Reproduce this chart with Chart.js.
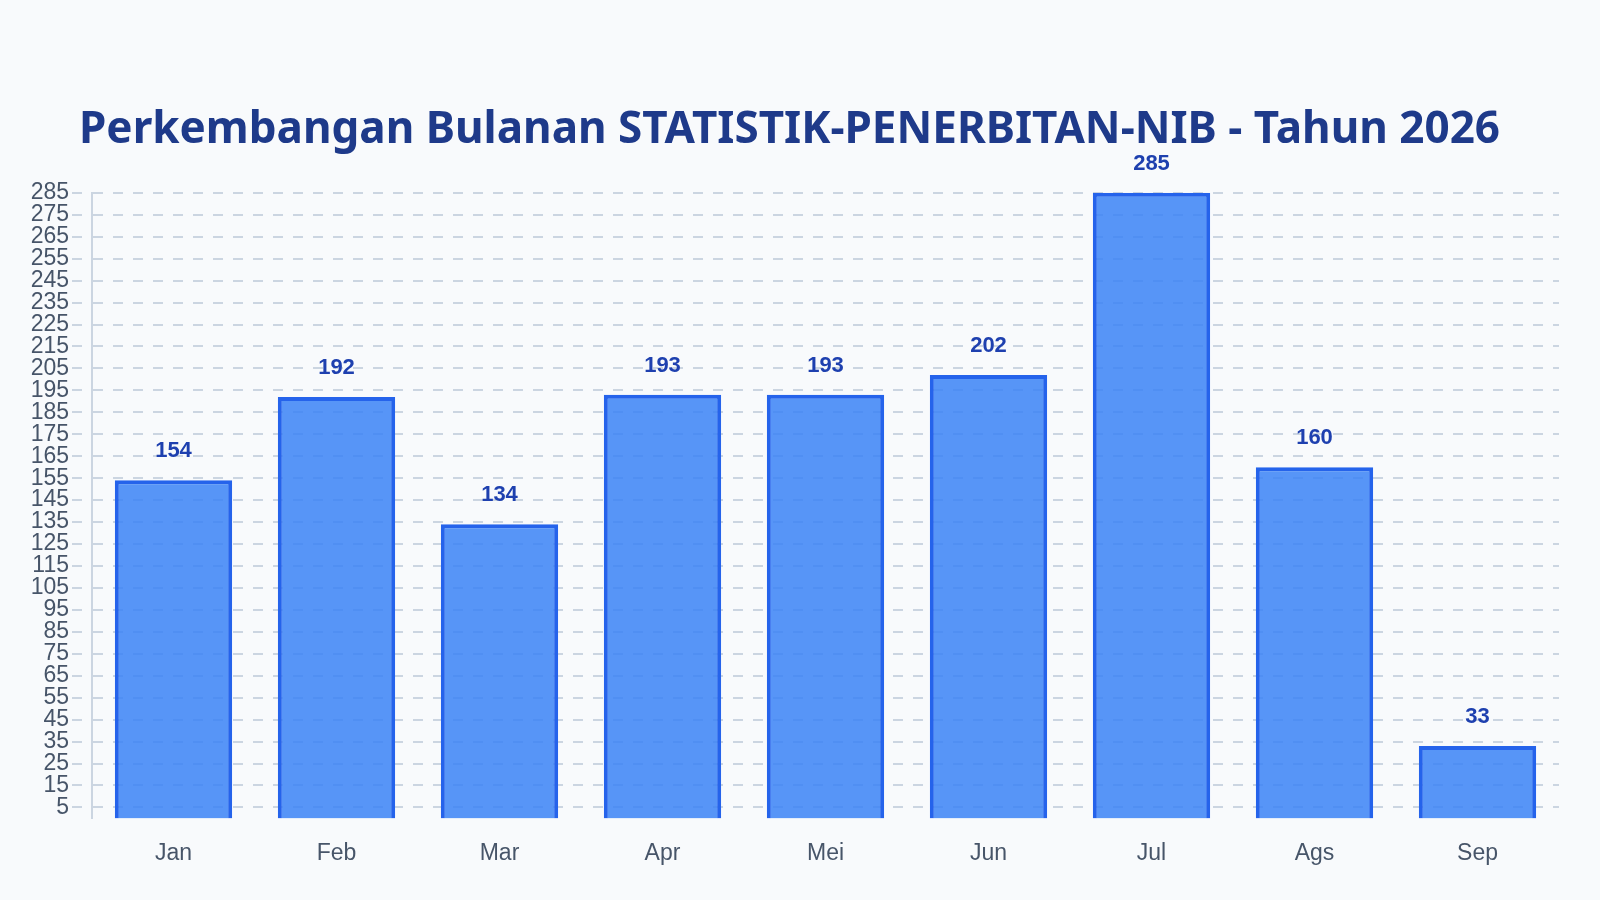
<!DOCTYPE html>
<html lang="id">
<head>
<meta charset="utf-8">
<title>Perkembangan Bulanan STATISTIK-PENERBITAN-NIB</title>
<script src="https://cdn.jsdelivr.net/npm/chart.js@4.4.1/dist/chart.umd.min.js"></script>
<style>
  html, body {
    margin: 0;
    padding: 0;
    background: #f8fafc;
  }
  .chart-wrap {
    width: 1600px;
    height: 900px;
    position: relative;
  }
</style>
</head>
<body>
<div class="chart-wrap">
  <canvas id="nibChart"></canvas>
</div>
<script>
const monthLabels = ['Jan', 'Feb', 'Mar', 'Apr', 'Mei', 'Jun', 'Jul', 'Ags', 'Sep'];
const nibCounts = [154, 192, 134, 193, 193, 202, 285, 160, 33];
const yTickValues = [
  5, 15, 25, 35, 45, 55, 65, 75, 85, 95, 105, 115, 125, 135, 145,
  155, 165, 175, 185, 195, 205, 215, 225, 235, 245, 255, 265, 275, 285
];
const chartTitle = 'Perkembangan Bulanan STATISTIK-PENERBITAN-NIB - Tahun 2026';

// draws the value above each bar
const valueLabels = {
  id: 'valueLabels',
  afterDatasetsDraw(chart) {
    const { ctx } = chart;
    const meta = chart.getDatasetMeta(0);
    ctx.save();
    ctx.font = 'bold 22px "Liberation Sans", Arial, sans-serif';
    ctx.fillStyle = '#1e40af';
    ctx.textAlign = 'center';
    ctx.textBaseline = 'middle';
    meta.data.forEach((bar, i) => {
      ctx.fillText(String(nibCounts[i]), bar.x, bar.y - 29);
    });
    ctx.restore();
  },
};

const chartCanvas = document.getElementById('nibChart');

new Chart(chartCanvas, {
  type: 'bar',
  data: {
    labels: monthLabels,
    datasets: [
      {
        label: 'NIB',
        data: nibCounts,
        backgroundColor: 'rgba(59, 130, 246, 0.85)',
        borderColor: '#2563eb',
        borderWidth: 4,
      },
    ],
  },
  options: {
    responsive: true,
    maintainAspectRatio: false,
    animation: false,
    layout: {
      padding: { top: 40, right: 41, bottom: 12, left: 20 },
    },
    plugins: {
      legend: { display: false },
      tooltip: { enabled: false },
      title: {
        display: true,
        text: chartTitle,
        color: '#1e3a8a',
        font: { family: '"Noto Sans", sans-serif', size: 44, weight: 'bold' },
        padding: { top: 64, bottom: 36 },
      },
    },
    scales: {
      x: {
        grid: { display: false, drawTicks: false },
        border: { display: false },
        ticks: {
          color: '#475569',
          padding: 21,
          font: { family: '"Liberation Sans", Arial, sans-serif', size: 23 },
        },
      },
      y: {
        min: 0,
        max: 285,
        afterBuildTicks(scale) {
          scale.ticks = yTickValues.map((value) => ({ value }));
        },
        afterFit(scale) {
          scale.width = 72;
        },
        grid: {
          color: '#cbd5e1',
          lineWidth: 2,
          tickLength: 20,
          tickBorderDash: [10, 10],
        },
        border: {
          display: true,
          color: '#cbd5e1',
          width: 2,
          dash: [10, 10],
        },
        ticks: {
          autoSkip: false,
          color: '#475569',
          padding: 3,
          font: { family: '"Liberation Sans", Arial, sans-serif', size: 23 },
        },
      },
    },
  },
  plugins: [valueLabels],
});
</script>
</body>
</html>
